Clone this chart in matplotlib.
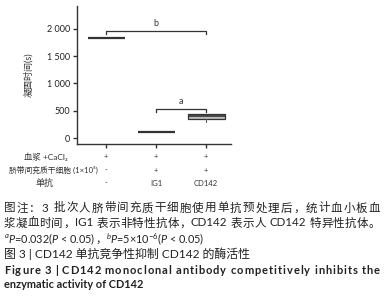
import re
import matplotlib.pyplot as plt
import matplotlib as mpl

mpl.rcParams['font.family'] = ['Lato', 'Noto Sans CJK SC', 'DejaVu Sans']
mpl.rcParams['axes.unicode_minus'] = False
mpl.rcParams['mathtext.fontset'] = 'custom'
mpl.rcParams['mathtext.rm'] = 'Lato'
mpl.rcParams['mathtext.it'] = 'Lato:italic'
mpl.rcParams['mathtext.bf'] = 'Lato:bold'

# clotting time (s) per group, box stats
groups = [1, 2, 3]
medians = [1830, 110, 400]
q1s = [1830, 110, 350]
q3s = [1830, 110, 440]
lows = [1830, 110, 290]
highs = [1830, 110, 440]
box_colors = ['#444444', '#444444', '#bdbdbd']

yticks = [0, 500, 1000, 1500, 2000]
ytick_labels = ['0', '500', '1 000', '1 500', '2 000']

row_labels = ['血浆 +CaCl₂', '脐带间充质干细胞 (1×10⁵)', '单抗']
row_values = [['+', '+', '+'], ['-', '+', '+'], ['-', 'IG1', 'CD142']]

caption_1 = '图注：3 批次人脐带间充质干细胞使用单抗预处理后，统计血小板血'
caption_2 = '浆凝血时间，IG1 表示非特性抗体，CD142 表示人 CD142 特异性抗体。'
caption_3 = [r'$^a\mathit{P}$=0.032($\mathit{P}$ < 0.05)', '，',
             r'$^b\mathit{P}$=5×10$^{-6}$($\mathit{P}$ < 0.05)']
title_cn = '图 3 | CD142 单抗竞争性抑制 CD142 的酶活性'
title_en_1 = 'Figure 3 | CD142 monoclonal antibody competitively inhibits the'
title_en_2 = 'enzymatic activity of CD142'

W, H = 384, 300
fig = plt.figure(figsize=(3.84, 3.0), dpi=100)
ax = fig.add_axes([77 / W, 1 - 144 / H, 154 / W, 138 / H])

stats = []
for i in range(3):
    stats.append({'med': medians[i], 'q1': q1s[i], 'q3': q3s[i],
                  'whislo': lows[i], 'whishi': highs[i], 'fliers': []})
bp = ax.bxp(stats, positions=groups, widths=0.74, patch_artist=True,
            showcaps=False)
for i, b in enumerate(bp['boxes']):
    b.set_facecolor(box_colors[i])
    b.set_edgecolor('#333333')
    b.set_linewidth(1.6 if i < 2 else 0.9)
for m in bp['medians']:
    m.set_color('#333333')
    m.set_linewidth(1.2)
for w in bp['whiskers']:
    w.set_color('#555555')
    w.set_linewidth(0.7)

ax.set_xlim(0.42, 3.5)
ax.set_ylim(-110, 2420)
ax.set_yticks(yticks)
ax.set_yticklabels(ytick_labels)
ax.set_xticks(groups)
ax.set_xticklabels([])
ax.spines['top'].set_visible(False)
ax.spines['right'].set_visible(False)
for s in ['left', 'bottom']:
    ax.spines[s].set_linewidth(1.0)
    ax.spines[s].set_color('#333333')
ax.tick_params(axis='both', length=3, width=1.0, color='#333333',
               labelsize=6.5, labelcolor='#222222', pad=2)
ax.set_ylabel('凝固时间(s)', fontsize=6.5, labelpad=10, color='#333333')


# significance brackets
def bracket(x1, x2, y, h, label):
    ax.plot([x1, x1, x2, x2], [y - h, y, y, y - h], color='#333333', lw=0.9)
    ax.text((x1 + x2) / 2, y + 40, label, ha='center', va='bottom',
            fontsize=6.5, color='#333333')


bracket(1, 3, 1970, 60, 'b')
bracket(2, 3, 540, 60, 'a')

# treatment table under the axis
tr = ax.get_xaxis_transform()
row_px = [157, 170, 183]
label_x = [46, 53, 45]
label_fs = [6, 5.6, 6.5]
for r in range(3):
    fig.text(label_x[r] / W, 1 - row_px[r] / H, row_labels[r],
             ha='center', va='center', fontsize=label_fs[r], color='#333333')
    for i in range(3):
        ax.text(groups[i], -(row_px[r] - 144) / 138, row_values[r][i],
                transform=tr, ha='center', va='center', fontsize=5.5,
                color='#333333')

renderer = fig.canvas.get_renderer()


def place(tokens, y, x0=4, x1=None, space=3, **kw):
    # lay tokens out left to right; with x1 given, spread the slack over the gaps
    arts, widths = [], []
    for t in tokens:
        if t == ' ':
            arts.append(None)
            widths.append(space)
            continue
        a = fig.text(0, 1 - y / H, t, ha='left', va='center', **kw)
        arts.append(a)
        widths.append(a.get_window_extent(renderer).width)
    gap = 0 if x1 is None else (x1 - x0 - sum(widths)) / (len(tokens) - 1)
    x = x0
    for a, w in zip(arts, widths):
        if a is not None:
            a.set_x(x / W)
        x += w + gap


def cn_tokens(s):
    return re.findall(r'[A-Za-z0-9.]+| |\S', s)


cn_kw = dict(fontsize=8.3, color='#222222')
place(cn_tokens(caption_1), 208, x1=380, **cn_kw)
place(cn_tokens(caption_2), 223, x1=380, **cn_kw)
place(caption_3, 239, fontsize=7.8, color='#222222')
fig.text(4 / W, 1 - 254 / H, title_cn, ha='left', va='center', fontsize=8.6,
         color='#222222')
en_kw = dict(fontsize=8, fontweight='bold', color='#222222')
place(list(title_en_1), 270, x1=380, space=2, **en_kw)
fig.text(4 / W, 1 - 285 / H, title_en_2, ha='left', va='center', fontsize=7.9,
         fontweight='bold', color='#222222')

fig.savefig('out.png', dpi=100)
